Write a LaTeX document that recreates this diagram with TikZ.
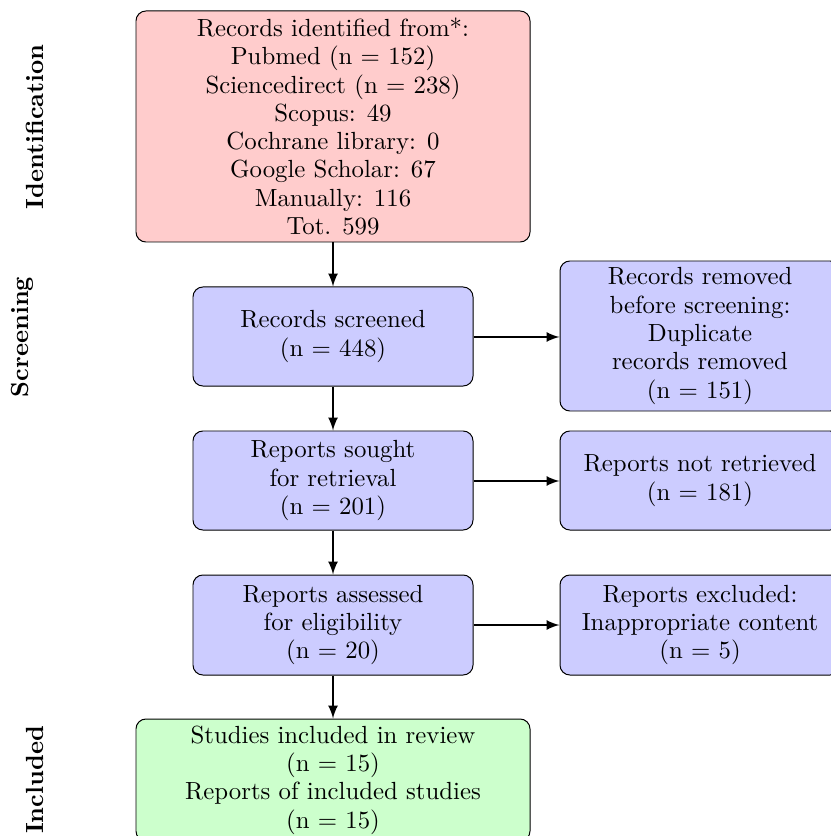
\documentclass[tikz,border=0pt]{standalone}
\usetikzlibrary{arrows}
\begin{document}
\begin{tikzpicture}[x=0.4032pt,y=-0.4032pt,
  box/.style={draw, rounded corners=4pt, align=center, inner sep=0pt,
    font=\fontsize{10}{11.4}\selectfont},
  redbox/.style={box, fill=red!20, minimum width=158.86pt},
  bluebox/.style={box, fill=blue!20, minimum width=112.90pt},
  greenbox/.style={box, fill=green!20, minimum width=158.86pt},
  conn/.style={thick, -latex},
  phase/.style={rotate=90, anchor=base, font=\bfseries}]
\useasboundingbox (0,0) rectangle (830,836);

\node[redbox, minimum height=93.14pt] (top) at (333,126.5)
  {Records identified from*:\\ Pubmed (n = 152)\\ Sciencedirect (n = 238)\\ Scopus: 49\\ Cochrane library: 0\\ Google Scholar: 67\\ Manually: 116\\ Tot. 599};
\node[bluebox, minimum height=39.92pt] (scr) at (333,336.5) {Records screened\\ (n = 448)};
\node[bluebox, minimum height=60.48pt] (rem) at (700,336) {Records removed\\ before screening:\\ Duplicate\\ records removed\\ (n = 151)};
\node[bluebox, minimum height=39.92pt] (sou) at (333,480.5) {Reports sought\\ for retrieval\\ (n = 201)};
\node[bluebox, minimum height=39.92pt] (nret) at (700,480.5) {Reports not retrieved\\ (n = 181)};
\node[bluebox, minimum height=40.32pt] (ass) at (333,625) {Reports assessed\\ for eligibility\\ (n = 20)};
\node[bluebox, minimum height=40.32pt] (exc) at (700,625) {Reports excluded:\\ Inappropriate content\\ (n = 5)};
\node[greenbox, minimum height=49.19pt] (inc) at (333,780) {Studies included in review\\ (n = 15)\\ Reports of included studies\\ (n = 15)};

\draw[conn] (top) -- (scr);
\draw[conn] (scr) -- (sou);
\draw[conn] (sou) -- (ass);
\draw[conn] (ass) -- (inc);
\draw[conn] ([yshift=-0.2pt]scr.east) -- ([yshift=-0.2pt]scr.east -| rem.west);
\draw[conn] ([yshift=-0.2pt]sou.east) -- ([yshift=-0.2pt]sou.east -| nret.west);
\draw[conn] (ass.east) -- (ass.east -| exc.west);

\node[phase] (lid) at (43,127) {Identification};
\node[phase] (lsc) at (28,337) {Screening};
\node[phase] (lin) at (43,780) {Included};
\end{tikzpicture}
\end{document}
